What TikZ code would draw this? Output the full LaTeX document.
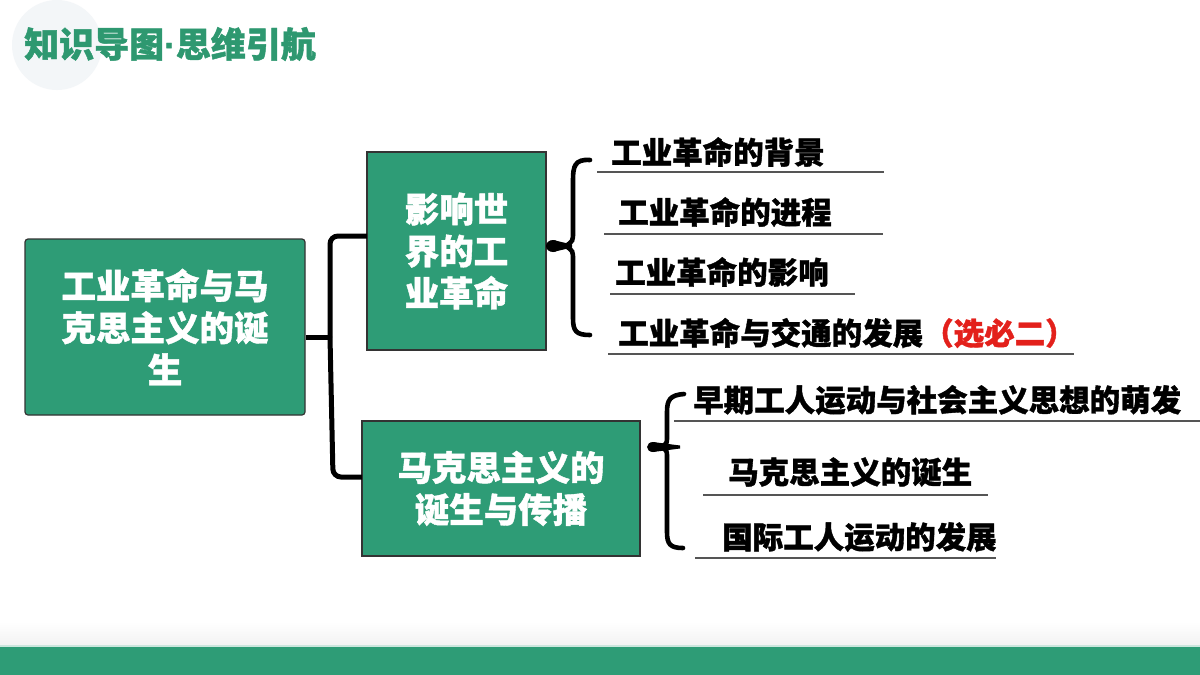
\documentclass[tikz,border=0pt]{standalone}
\usepackage{fontspec}
\setmainfont{Noto Sans CJK SC}[BoldFeatures={FakeBold=1.2}]
\newfontfamily\dotfont{Liberation Sans}[BoldFeatures={FakeBold=1.2}]
\definecolor{gr}{HTML}{2E9C76}
\definecolor{titlegr}{HTML}{2E9870}
\definecolor{redt}{HTML}{E3201B}
\definecolor{uline}{HTML}{555555}
\definecolor{circ}{HTML}{F3F6F8}
\begin{document}
\begin{tikzpicture}[x=1pt,y=-1pt,
  box/.style={draw=black!80, line width=1.2pt, fill=gr, text=white, align=center,
    inner sep=0pt, font=\fontsize{34.5}{42}\selectfont\bfseries},
  item/.style={anchor=west, inner sep=0pt, font=\fontsize{30.5}{34}\selectfont\bfseries, text=black},
  ul/.style={draw=uline, line width=1.2pt},
  conn/.style={draw=black, line width=5pt, rounded corners=8pt},
  brc/.style={draw=black, line width=4.6pt, line cap=round},
]
\useasboundingbox (0,0) rectangle (1200,675);
\fill[white] (0,0) rectangle (1200,675);
% decorations
\fill[circ] (57,45) circle (45);
\node[anchor=west, inner sep=0pt, text=titlegr, font=\fontsize{35}{38}\selectfont\bfseries] (title) at (24,44) {知识导图{\dotfont ·}思维引航};
\shade[top color=white, bottom color=black!5] (0,622) rectangle (1200,645);
\fill[gr!25] (0,645) rectangle (1200,647);
\fill[gr] (0,647) rectangle (1200,675);

% boxes
\node[box, rounded corners=3pt, minimum width=280pt, minimum height=176pt] (root) at (165,327)
  {工业革命与马\\克思主义的诞\\生};
\node[box, minimum width=179pt, minimum height=198pt] (boxA) at (456.5,251)
  {影响世\\界的工\\业革命};
\node[box, minimum width=278pt, minimum height=135pt] (boxB) at (501,488.5)
  {马克思主义的\\诞生与传播};

% left connector
\coordinate (j) at (330,337);
\coordinate (ja) at (330,236);
\coordinate (jb) at (333,477);
\coordinate (ea) at (367,236);
\coordinate (eb) at (362,477);
\draw[conn] (root.east |- j) -- (j);
\draw[conn] (j) -- (ja) -- (ea);
\draw[conn] (j) -- (jb) -- (eb);

% brace A
\coordinate (bA) at (572,246);
\draw[brc] (590,160) .. controls (575,159) and (573,166) .. (573,180) -- (573,232)
  .. controls (573,241) .. (566,246) .. controls (573,251) .. (573,260) -- (573,318)
  .. controls (573,331) and (576,335) .. (590,335);
\fill (553,246) ellipse (7 and 6);
\fill (553,240) -- (572,244.5) -- (572,247.5) -- (553,252) -- cycle;
\draw[line width=1pt] (boxA.east |- bA) -- (bA);

% brace B
\coordinate (bB) at (680,447);
\draw[brc] (684,394) .. controls (670,395) and (667,400) .. (667,412) -- (667,437)
  .. controls (667,443) .. (662,447) .. controls (667,451) .. (667,457) -- (667,532)
  .. controls (667,544) and (670,548) .. (683,548);
\fill (653,447) ellipse (6 and 5);
\fill (653,442) -- (680,445.5) -- (680,448.5) -- (653,452) -- cycle;

% items of A
\node[item] (a1) at (611,152) {工业革命的背景};
\node[item] (a2) at (618,212) {工业革命的进程};
\node[item] (a3) at (615,272) {工业革命的影响};
\node[item] (a4) at (618,333) {工业革命与交通的发展\textcolor{redt}{（选必二）}};
\draw[ul] (597,172) -- (884,172);
\draw[ul] (604,234) -- (883,234);
\draw[ul] (610,294) -- (855,294);
\draw[ul] (608,354) -- (1074,354);

% items of B
\node[item] (b1) at (693,400) {早期工人运动与社会主义思想的萌发};
\node[item] (b2) at (728,472) {马克思主义的诞生};
\node[item] (b3) at (722,537) {国际工人运动的发展};
\draw[ul] (674,421) -- (1200,421);
\draw[ul] (703,495) -- (988,495);
\draw[ul] (695,558) -- (996,558);
\end{tikzpicture}
\end{document}
